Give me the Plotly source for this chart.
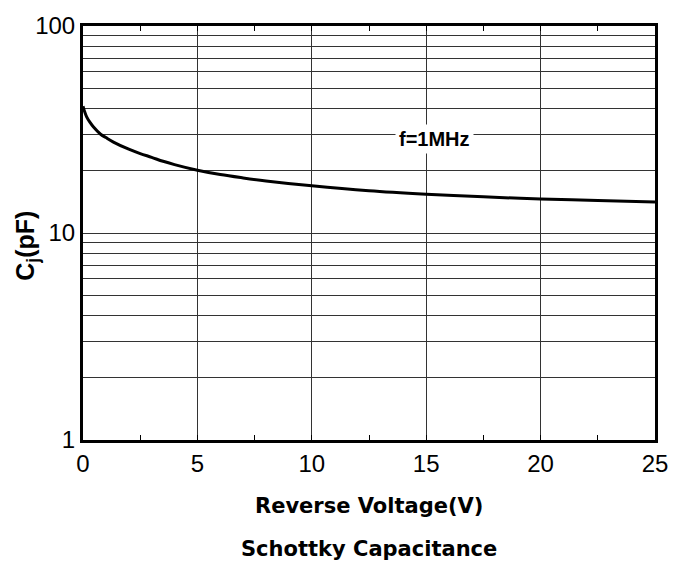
import plotly.graph_objects as go

# Data
voltage = [0, 0.05, 0.16, 0.3, 0.45, 0.77, 1, 1.33, 2, 2.5, 3, 3.5, 4, 5, 6, 7, 8,
           10, 12.5, 15, 17.5, 20, 22.5, 25]
capacitance = [41, 39.2, 36.4, 34.3, 32.6, 30.0, 28.9, 27.5, 25.4, 24.2, 23.2, 22.2, 21.4,
               20.1, 19.15, 18.45, 17.85, 16.9, 16.0, 15.4, 14.95, 14.6, 14.35, 14.1]

x_ticks = [0, 5, 10, 15, 20, 25]
x_minor = [2.5, 7.5, 12.5, 17.5, 22.5]
y_grid = [1, 2, 3, 4, 5, 6, 7, 8, 9, 10, 20, 30, 40, 50, 60, 70, 80, 90, 100]
y_labels = ["1", "", "", "", "", "", "", "", "", "10", "", "", "", "", "", "", "", "", "100"]

FONT = "Liberation Sans, Arial, sans-serif"
WIDE = "DejaVu Sans, Liberation Sans, sans-serif"

fig = go.Figure()
fig.add_trace(go.Scatter(
    x=voltage, y=capacitance, mode="lines",
    line=dict(color="black", width=3, shape="spline", smoothing=1.0),
    showlegend=False, hoverinfo="skip",
))

fig.add_annotation(x=15.35, y=1.455, xref="x", yref="y", text="<b>f=1MHz</b>",
                   showarrow=False, font=dict(family=FONT, size=20, color="black"),
                   bgcolor="white", borderpad=3, xanchor="center", yanchor="middle")

fig.add_annotation(x=0.5, y=-0.1595, xref="paper", yref="paper",
                   text="<b>Reverse Voltage(V)</b>", showarrow=False,
                   xanchor="center", yanchor="middle",
                   font=dict(family=WIDE, size=21, color="black"))
fig.add_annotation(x=0.5, y=-0.264, xref="paper", yref="paper",
                   text="<b>Schottky Capacitance</b>", showarrow=False,
                   xanchor="center", yanchor="middle",
                   font=dict(family=WIDE, size=21, color="black"))
fig.add_annotation(x=-0.098, y=0.469, xref="paper", yref="paper",
                   text="<b>C<sub>j</sub>(pF)</b>", showarrow=False, textangle=-90,
                   xanchor="center", yanchor="middle",
                   font=dict(family=FONT, size=25, color="black"))

fig.update_layout(
    width=688, height=570,
    margin=dict(l=83, r=33, t=20, b=130),
    paper_bgcolor="white", plot_bgcolor="white",
    font=dict(family=FONT, color="black"),
)

fig.update_xaxes(
    range=[0, 25], tickvals=x_ticks, ticktext=[str(v) for v in x_ticks],
    showgrid=True, gridcolor="#333333", gridwidth=1,
    showline=True, linecolor="black", linewidth=3, mirror="allticks",
    ticks="inside", ticklen=5, tickcolor="black", tickwidth=1,
    tickfont=dict(size=24, family=FONT, color="black"),
    minor=dict(tickvals=x_minor, ticks="inside", ticklen=5, tickcolor="black", showgrid=False),
    zeroline=False,
)
fig.update_yaxes(
    type="log", range=[0, 2], tickvals=y_grid, ticktext=y_labels,
    showgrid=True, gridcolor="#333333", gridwidth=1,
    showline=True, linecolor="black", linewidth=3, mirror=True,
    ticks="", tickfont=dict(size=24, family=FONT, color="black"),
    zeroline=False,
)

fig.write_html("out.html")
